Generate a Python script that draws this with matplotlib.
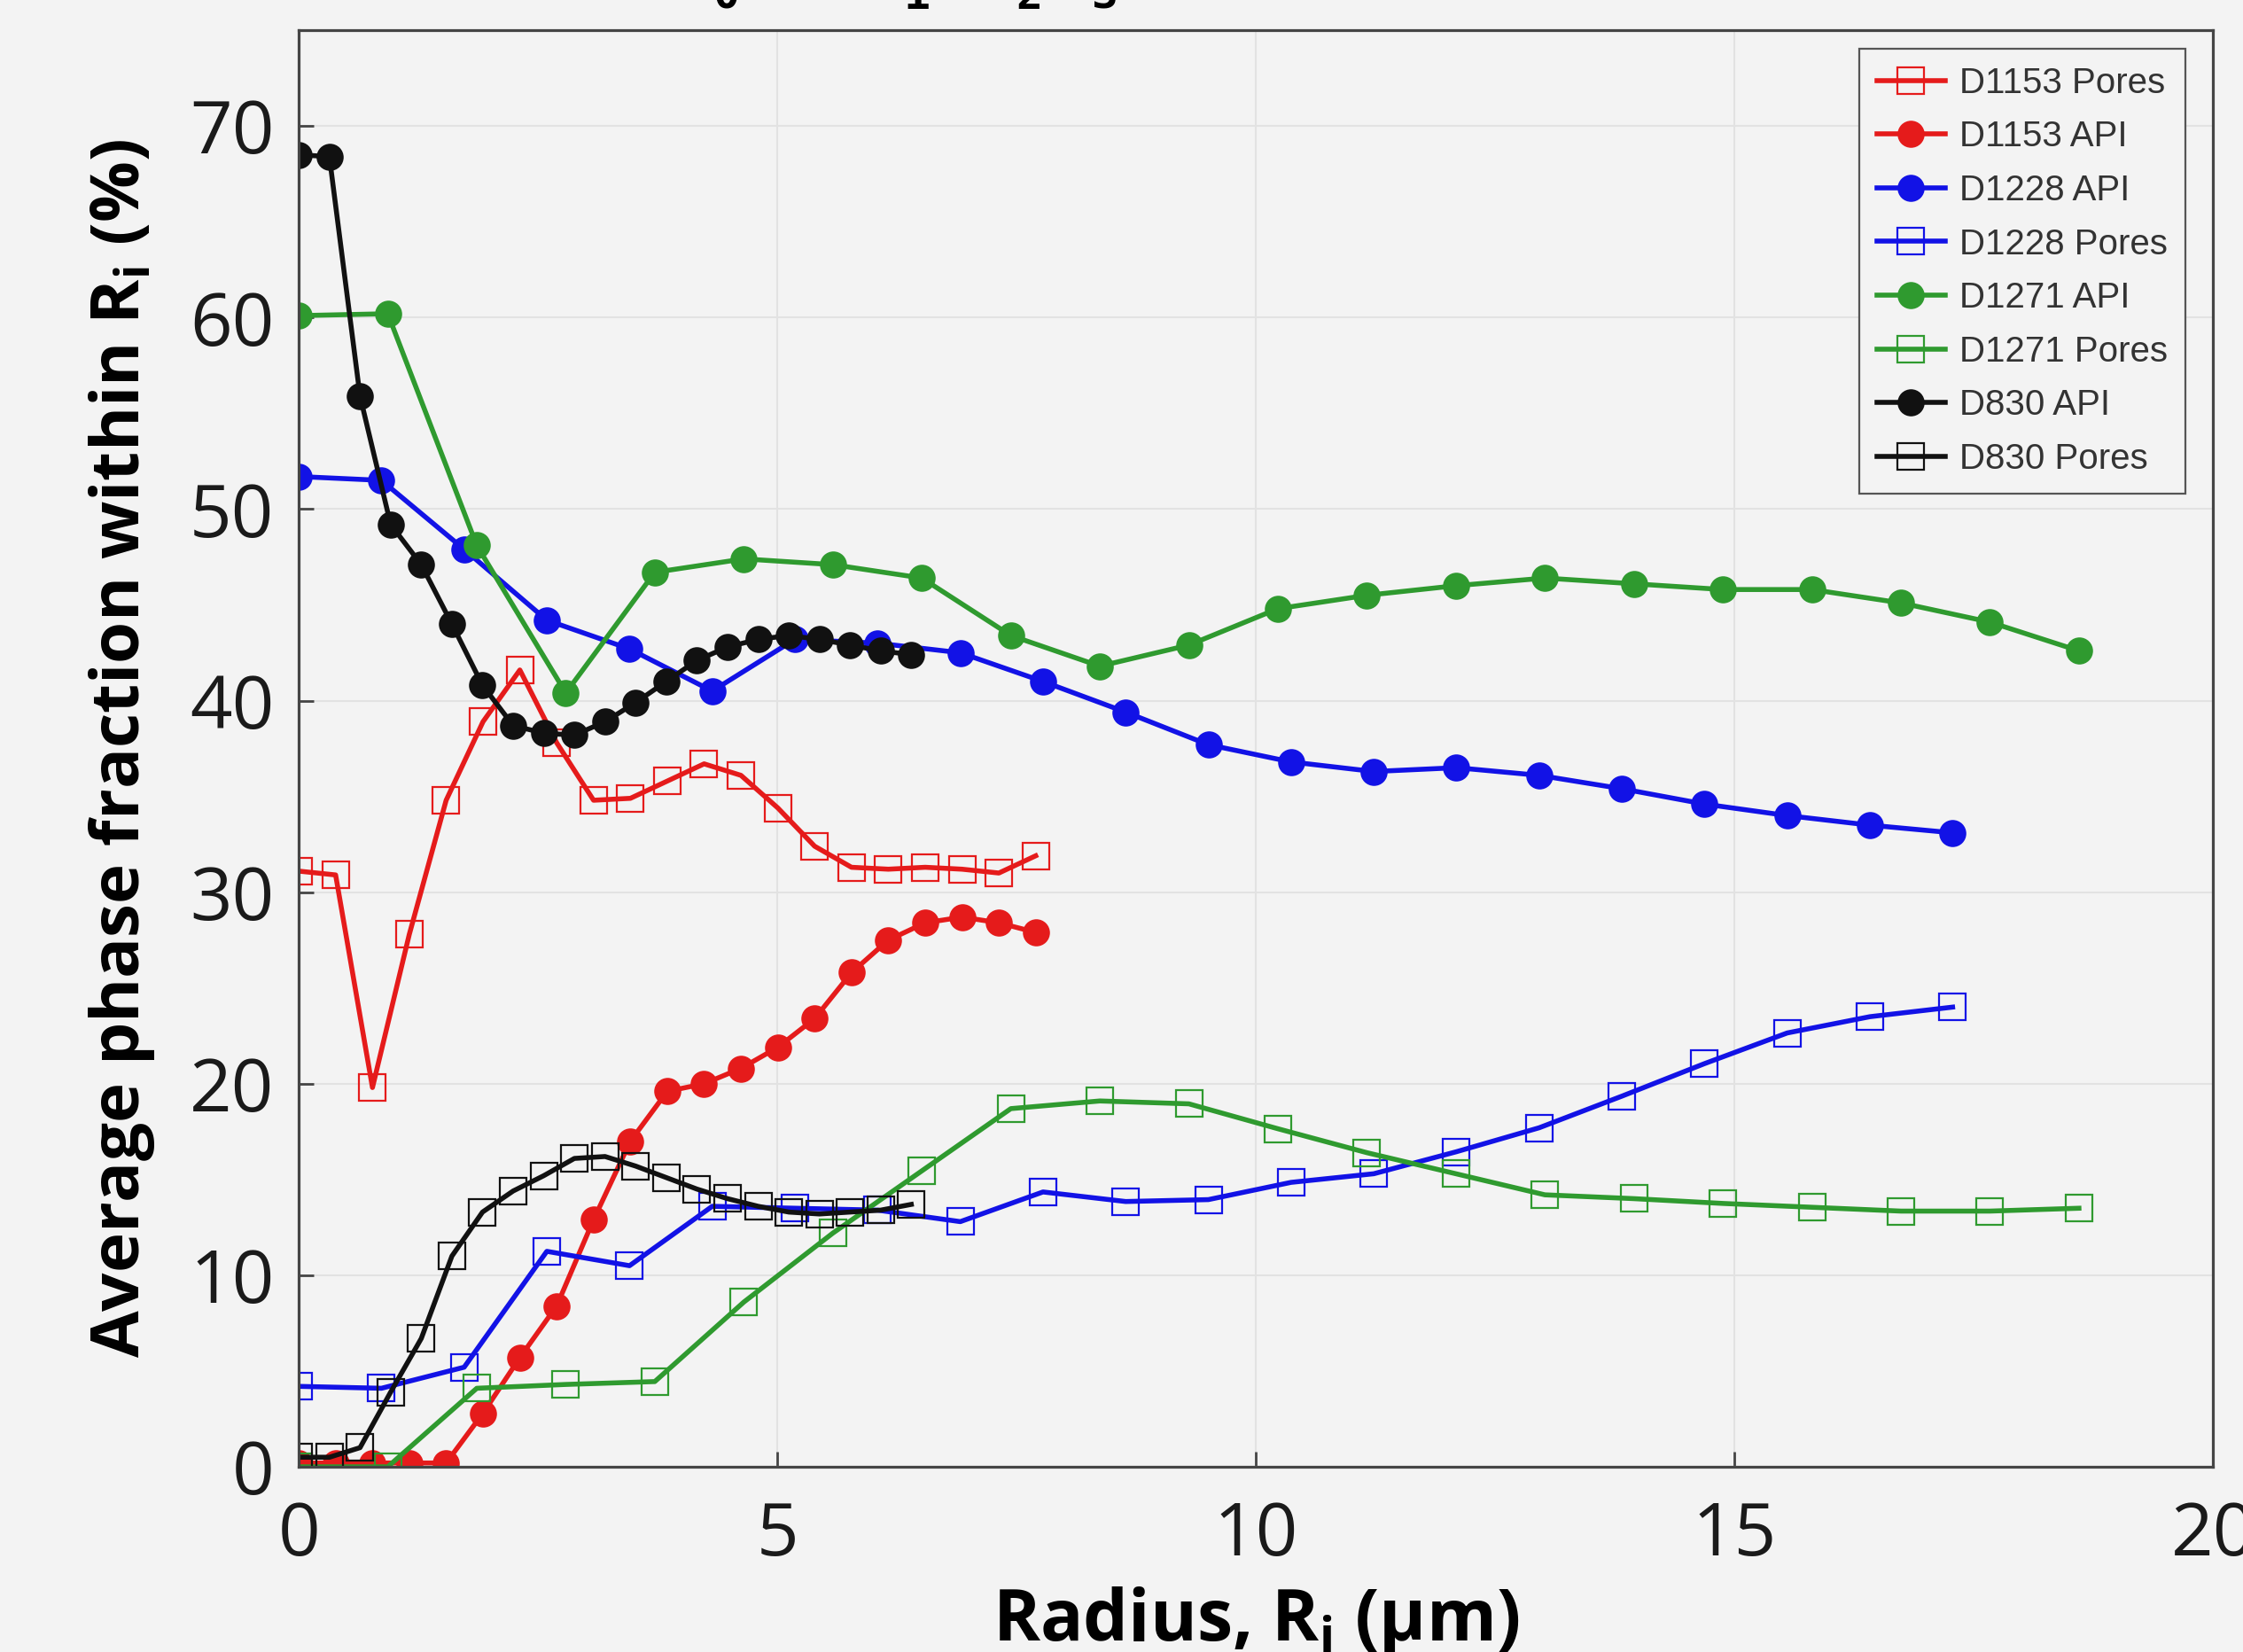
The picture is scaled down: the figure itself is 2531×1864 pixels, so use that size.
import numpy as np
import matplotlib.pyplot as plt

# radius positions (um) for each sample
x_d1153 = [0, 0.385, 0.77, 1.155, 1.54, 1.925, 2.31, 2.695, 3.08, 3.465, 3.85,
           4.235, 4.62, 5.005, 5.39, 5.775, 6.16, 6.545, 6.93, 7.315, 7.7]
x_d1228 = [0, 0.864, 1.728, 2.592, 3.456, 4.32, 5.184, 6.048, 6.912, 7.776, 8.64,
           9.504, 10.368, 11.232, 12.096, 12.96, 13.824, 14.688, 15.552, 16.416, 17.28]
x_d1271 = [0, 0.93, 1.86, 2.79, 3.72, 4.65, 5.58, 6.51, 7.44, 8.37, 9.3,
           10.23, 11.16, 12.09, 13.02, 13.95, 14.88, 15.81, 16.74, 17.67, 18.6]
x_d830 = [0, 0.32, 0.64, 0.96, 1.28, 1.6, 1.92, 2.24, 2.56, 2.88, 3.2,
          3.52, 3.84, 4.16, 4.48, 4.8, 5.12, 5.44, 5.76, 6.08, 6.4]

# average phase fraction (%)
d1153_pores = [31.1, 30.9, 19.8, 27.8, 34.8, 38.9, 41.6, 37.8, 34.8, 34.9, 35.8,
               36.7, 36.1, 34.4, 32.4, 31.3, 31.2, 31.3, 31.2, 31.0, 31.9]
d1153_api = [0.2, 0.2, 0.2, 0.2, 0.2, 2.8, 5.7, 8.4, 12.9, 17.0, 19.6,
             20.0, 20.8, 21.9, 23.4, 25.8, 27.5, 28.4, 28.7, 28.4, 27.9]
d1228_api = [51.7, 51.5, 47.9, 44.2, 42.7, 40.5, 43.2, 43.0, 42.5, 41.0, 39.4,
             37.7, 36.8, 36.3, 36.5, 36.1, 35.4, 34.6, 34.0, 33.5, 33.1]
d1228_pores = [4.2, 4.1, 5.2, 11.25, 10.5, 13.6, 13.5, 13.4, 12.8, 14.35, 13.85,
               13.95, 14.85, 15.3, 16.45, 17.7, 19.35, 21.05, 22.65, 23.5, 24.0]
d1271_api = [60.1, 60.2, 48.1, 40.4, 46.7, 47.4, 47.1, 46.4, 43.4, 41.8, 42.9,
             44.8, 45.5, 46.0, 46.4, 46.1, 45.8, 45.8, 45.1, 44.1, 42.6]
d1271_pores = [0.0, 0.0, 4.1, 4.3, 4.45, 8.6, 12.2, 15.45, 18.7, 19.1, 18.95,
               17.65, 16.4, 15.3, 14.2, 14.0, 13.75, 13.55, 13.35, 13.35, 13.5]
d830_api = [68.5, 68.4, 55.9, 49.2, 47.1, 44.0, 40.8, 38.7, 38.3, 38.2, 38.9,
            39.9, 41.0, 42.1, 42.8, 43.2, 43.4, 43.2, 42.9, 42.6, 42.4]
d830_pores = [0.5, 0.5, 1.0, 3.9, 6.7, 11.0, 13.3, 14.4, 15.2, 16.1, 16.2,
              15.7, 15.1, 14.5, 14.0, 13.6, 13.3, 13.2, 13.3, 13.4, 13.7]

xticks = [0, 5, 10, 15, 20]
yticks = [0, 10, 20, 30, 40, 50, 60, 70]

red = '#e51b1b'
blue = '#1212e6'
green = '#2f9a2f'
black = '#111111'
bg = '#f3f3f3'

fig = plt.figure(figsize=(25.31, 18.64), dpi=100, facecolor=bg)
ax = fig.add_axes([0.1332, 0.1121, 0.8534, 0.8696], facecolor=bg)

lw = 4.0
ms = 22
sq = dict(marker='s', markerfacecolor='none', markeredgewidth=1.6, markersize=ms, linewidth=lw)
ci = dict(marker='o', markersize=ms, linewidth=lw, markeredgewidth=0)

ax.plot(x_d1153, d1153_pores, color=red, markeredgecolor=red, label='D1153 Pores', **sq)
ax.plot(x_d1153, d1153_api, color=red, markerfacecolor=red, label='D1153 API', **ci)
ax.plot(x_d1228, d1228_api, color=blue, markerfacecolor=blue, label='D1228 API', **ci)
ax.plot(x_d1228, d1228_pores, color=blue, markeredgecolor=blue, label='D1228 Pores', **sq)
ax.plot(x_d1271, d1271_api, color=green, markerfacecolor=green, label='D1271 API', **ci)
ax.plot(x_d1271, d1271_pores, color=green, markeredgecolor=green, label='D1271 Pores', **sq)
ax.plot(x_d830, d830_api, color=black, markerfacecolor=black, label='D830 API', **ci)
ax.plot(x_d830, d830_pores, color=black, markeredgecolor=black, label='D830 Pores', **sq)

ax.set_xlim(0, 20)
ax.set_ylim(0, 75)
ax.set_xticks(xticks)
ax.set_yticks(yticks)
ax.grid(True, color='#e2e2e2', linewidth=1.5)
ax.set_axisbelow(True)
for s in ax.spines.values():
    s.set_color('#454545')
    s.set_linewidth(2.3)
ax.tick_params(direction='in', length=12, width=2, color='#454545',
               labelsize=60, labelcolor='#1a1a1a')
ax.tick_params(axis='y', pad=20)
ax.tick_params(axis='x', pad=27)
for lab in ax.get_xticklabels() + ax.get_yticklabels():
    lab.set_family('Open Sans')

ax.set_xlabel(r'Radius, R$_{\mathregular{i}}$ (µm)', fontsize=58,
              fontweight='bold', family='Open Sans')
ax.set_ylabel(r'Average phase fraction within R$_{\mathregular{i}}$ (%)', fontsize=55,
              fontweight='bold', family='Open Sans')
ax.xaxis.set_label_coords(0.5, -0.082)
ax.yaxis.set_label_coords(-0.074, 0.5)

leg = ax.legend(loc='upper right', bbox_to_anchor=(0.9856, 0.9873), borderaxespad=0,
                fancybox=False, framealpha=1, facecolor=bg, edgecolor='#555555',
                prop={'family': 'Liberation Sans', 'size': 29},
                handlelength=1.9, handletextpad=0.4, borderpad=0.5,
                labelspacing=0.56)
leg.get_frame().set_linewidth(1.6)
for t in leg.get_texts():
    t.set_color('#333333')

# clipped subscripts left over at the top edge of the image
for xp, s in zip([820, 1034, 1161, 1247], ['0', '1', '2', '3']):
    fig.text(xp / 2531, 1 - 10 / 1864, s, ha='center', va='baseline',
             family='DejaVu Sans Mono', fontweight='bold', fontsize=36)

fig.savefig('out.png', dpi=100, facecolor=bg)
